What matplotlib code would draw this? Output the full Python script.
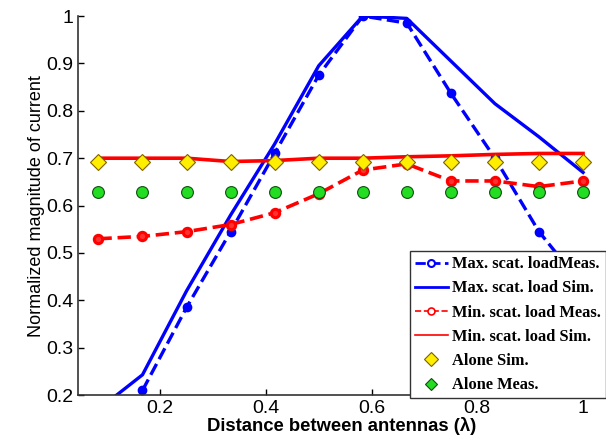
import matplotlib
matplotlib.use("Agg")
import matplotlib.pyplot as plt
from matplotlib.lines import Line2D

# distance between antennas (in wavelengths)
d = [1/12, 2/12, 3/12, 4/12, 5/12, 6/12, 7/12, 8/12, 9/12, 10/12, 11/12, 1.0]

max_meas = [None, 0.21, 0.385, 0.545, 0.71, 0.875, 1.0, 0.985, 0.837, 0.70, 0.545, 0.43]
max_sim = [0.17, 0.243, 0.42, 0.58, 0.73, 0.895, 1.0, 0.995, 0.905, 0.815, 0.745, 0.67]
min_meas = [0.53, 0.535, 0.545, 0.56, 0.585, 0.625, 0.675, 0.688, 0.652, 0.652, 0.64, 0.652]
min_sim = [0.70, 0.70, 0.70, 0.693, 0.695, 0.70, 0.70, 0.703, 0.705, 0.708, 0.71, 0.71]
alone_sim = [0.692] * 12
alone_meas = [0.628] * 12

yticks = [0.2, 0.3, 0.4, 0.5, 0.6, 0.7, 0.8, 0.9, 1.0]
ytick_labels = ["0.2", "0.3", "0.4", "0.5", "0.6", "0.7", "0.8", "0.9", "1"]
xticks = [0.2, 0.4, 0.6, 0.8, 1.0]
xtick_labels = ["0.2", "0.4", "0.6", "0.8", "1"]

plt.rcParams['font.family'] = ['Arial', 'Liberation Sans', 'DejaVu Sans']

fig = plt.figure(figsize=(6.06, 4.45), dpi=100)
ax = fig.add_axes([0.129, 0.112, 0.868, 0.852])

xm = [x for x, y in zip(d, max_meas) if y is not None]
ym = [y for y in max_meas if y is not None]
ax.plot(xm, ym, '--o', color='#0000ff', lw=2.4, ms=6, mfc='#0000ff', mec='#0000ff')
ax.plot(d, max_sim, '-', color='#0000ff', lw=2.4)
ax.plot(d, min_meas, '--o', color='#ff0000', lw=2.6, ms=6, mfc='#ff3030', mec='#ff0000', mew=2.2)
ax.plot(d, min_sim, '-', color='#ff0000', lw=2.6)
ax.plot(d, alone_sim, 'D', color='#ffee00', ms=8, mec='#806000', mew=0.8, ls='none', clip_on=False)
ax.plot(d, alone_meas, 'o', color='#22dd22', ms=8.5, mec='#105010', mew=0.8, ls='none', clip_on=False)

ax.set_xlim(0.045, 1.04)
ax.set_ylim(0.2, 1.0)
ax.set_xticks(xticks)
ax.set_xticklabels(xtick_labels)
ax.set_yticks(yticks)
ax.set_yticklabels(ytick_labels)
ax.tick_params(direction='in', labelsize=14, length=4, width=1)
ax.spines['top'].set_visible(False)
ax.spines['right'].set_visible(False)
for s in ['left', 'bottom']:
    ax.spines[s].set_linewidth(1.2)
    ax.spines[s].set_color('#333333')

ax.set_xlabel("Distance between antennas (\u03bb)", fontsize=13.3, fontweight='bold', labelpad=0)
ax.set_ylabel("Normalized magnitude of current", fontsize=13, labelpad=1)

handles = [
    Line2D([], [], ls='--', marker='o', color='#0000ff', lw=2, ms=5, mfc='white', mew=1.5),
    Line2D([], [], ls='-', color='#0000ff', lw=2),
    Line2D([], [], ls='--', marker='o', color='#ff0000', lw=1.2, ms=5, mfc='white', mew=1.2),
    Line2D([], [], ls='-', color='#ff0000', lw=1.2),
    Line2D([], [], ls='none', marker='D', color='#ffee00', ms=7, mec='#806000', mew=0.8),
    Line2D([], [], ls='none', marker='D', color='#22dd22', ms=6, mec='#105010', mew=0.8),
]
labels = ["Max. scat. loadMeas.", "Max. scat. load Sim.", "Min. scat. load Meas.",
          "Min. scat. load Sim.", "Alone Sim.", "Alone Meas."]
leg = ax.legend(handles, labels, loc='lower left', bbox_to_anchor=(0.631, -0.008),
                prop={'family': ['Liberation Serif', 'DejaVu Serif'], 'weight': 'bold', 'size': 11.8},
                frameon=True, fancybox=False, edgecolor='#333333', framealpha=1,
                handlelength=2.0, handletextpad=0.25, labelspacing=0.5, borderpad=0.3,
                borderaxespad=0)
leg.get_frame().set_linewidth(1.0)

fig.savefig("out.png", dpi=100)
